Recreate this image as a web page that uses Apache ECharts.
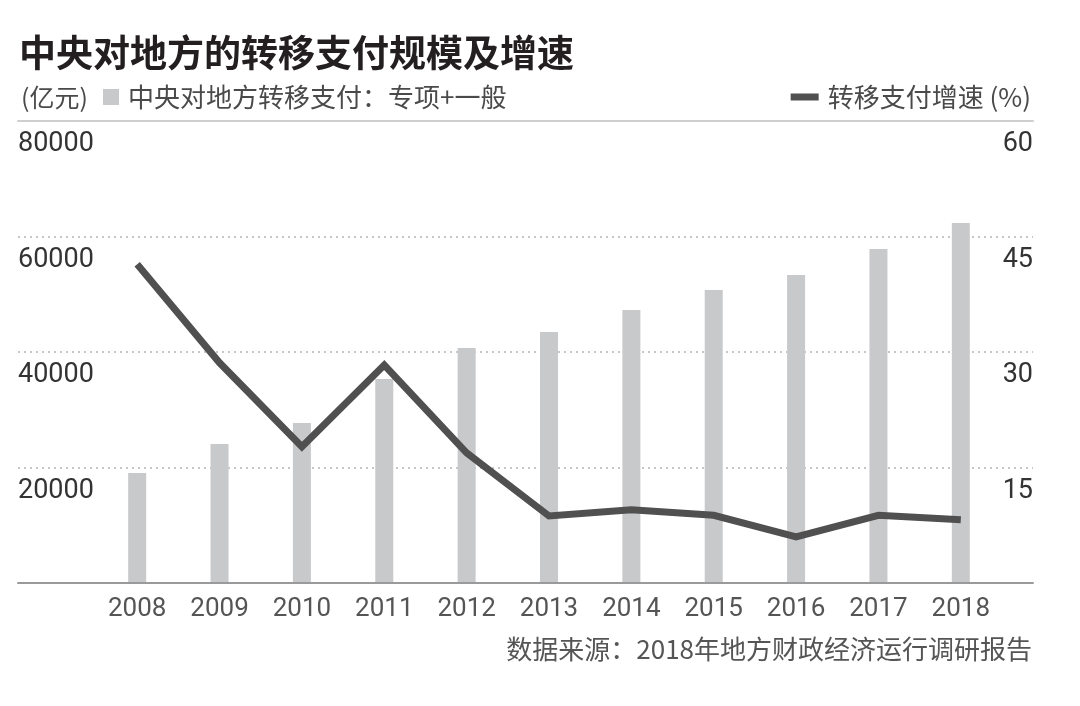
<!DOCTYPE html>
<html><head><meta charset="utf-8">
<script src="https://cdn.jsdelivr.net/npm/echarts@6/dist/echarts.min.js"></script>
<style>html,body{margin:0;padding:0;background:#fff}#c{width:1080px;height:706px}</style>
</head><body><div id="c"></div>
<script>
const categories = ['2008','2009','2010','2011','2012','2013','2014','2015','2016','2017','2018'];
const transferValues = [19050, 24070, 27700, 35320, 40690, 43460, 47270, 50740, 53330, 57840, 62340];
const growthValues = [41.4, 28.6, 17.7, 28.3, 16.9, 8.7, 9.5, 8.8, 6.0, 8.8, 8.2];
const leftTicks = [0, 20000, 40000, 60000, 80000];
const rightTicks = [0, 15, 30, 45, 60];

const CJK = '"Noto Sans CJK SC", "Noto Sans", sans-serif';
const NUM = 'Roboto, "Noto Sans", sans-serif';
const chart = echarts.init(document.getElementById('c'));
chart.setOption({
  backgroundColor: '#fff',
  animation: false,
  title: [
    { text: '中央对地方的转移支付规模及增速', left: 14, top: 29,
      textStyle: { fontFamily: CJK, fontSize: 37, fontWeight: 'bold', color: '#231f20' } },
    { text: '(亿元)', left: 16, top: 80,
      textStyle: { fontFamily: CJK, fontSize: 25, fontWeight: 'normal', color: '#4a4a4a' } },
    { text: '数据来源：2018年地方财政经济运行调研报告', right: 43, top: 631,
      textStyle: { fontFamily: CJK, fontSize: 26, fontWeight: 'normal', color: '#555' } }
  ],
  legend: [
    { data: ['中央对地方转移支付：专项+一般'], left: 98, top: 79, itemWidth: 16, itemHeight: 16,
      icon: 'rect', itemGap: 8,
      textStyle: { fontFamily: CJK, fontSize: 26, color: '#4a4a4a', padding: [0,0,0,4] } },
    { data: ['转移支付增速 (%)'], right: 44, top: 79, itemWidth: 28, itemHeight: 7,
      icon: 'rect',
      textStyle: { fontFamily: CJK, fontSize: 26, color: '#4a4a4a', padding: [0,0,0,4] } }
  ],
  grid: [
    { left: 96, right: 78, top: 121, bottom: 123 },
    { left: 18, right: 47, top: 121, bottom: 123 }
  ],
  xAxis: [
    { type: 'category', gridIndex: 0, data: categories,
      axisLine: { show: false }, axisTick: { show: false },
      axisLabel: { fontFamily: NUM, fontSize: 26, color: '#555', margin: 13 } },
    { type: 'category', gridIndex: 1, data: ['a'], position: 'bottom', z: 5,
      axisLine: { show: true, onZero: false, lineStyle: { color: '#9a9a9a', width: 2 } },
      axisTick: { show: false }, axisLabel: { show: false } },
    { type: 'category', gridIndex: 1, data: ['a'], position: 'top', z: 5,
      axisLine: { show: true, onZero: false, lineStyle: { color: '#cfcfcf', width: 2 } },
      axisTick: { show: false }, axisLabel: { show: false } }
  ],
  yAxis: [
    { type: 'value', gridIndex: 0, min: 0, max: 80000, interval: 20000, show: false },
    { type: 'value', gridIndex: 0, min: 0, max: 60, interval: 15, show: false },
    { type: 'value', gridIndex: 1, min: 0, max: 80000, interval: 20000, position: 'left',
      axisLine: { show: false }, axisTick: { show: false },
      splitLine: { show: true, lineStyle: { type: [2, 4], color: '#b5b5b5', width: 1.5 } },
      axisLabel: { inside: true, verticalAlign: 'top', showMinLabel: false,
        fontFamily: NUM, fontSize: 27, color: '#333', padding: [10, 0, 0, 0], margin: 0,
        formatter: v => leftTicks.includes(v) && v !== 0 ? String(v) : '' } },
    { type: 'value', gridIndex: 1, min: 0, max: 60, interval: 15, position: 'right',
      axisLine: { show: false }, axisTick: { show: false }, splitLine: { show: false },
      axisLabel: { inside: true, verticalAlign: 'top', showMinLabel: false,
        fontFamily: NUM, fontSize: 27, color: '#333', padding: [10, 0, 0, 0], margin: 0,
        formatter: v => rightTicks.includes(v) && v !== 0 ? String(v) : '' } }
  ],
  series: [
    { name: '中央对地方转移支付：专项+一般', type: 'bar', xAxisIndex: 0, yAxisIndex: 0,
      data: transferValues, barWidth: 18, itemStyle: { color: '#c8c9cb' }, z: 2 },
    { name: '转移支付增速 (%)', type: 'line', xAxisIndex: 0, yAxisIndex: 1,
      data: growthValues, showSymbol: false, symbol: 'none',
      lineStyle: { color: '#505050', width: 7, join: 'miter' },
      itemStyle: { color: '#505050' }, z: 3 }
  ]
});
</script></body></html>
